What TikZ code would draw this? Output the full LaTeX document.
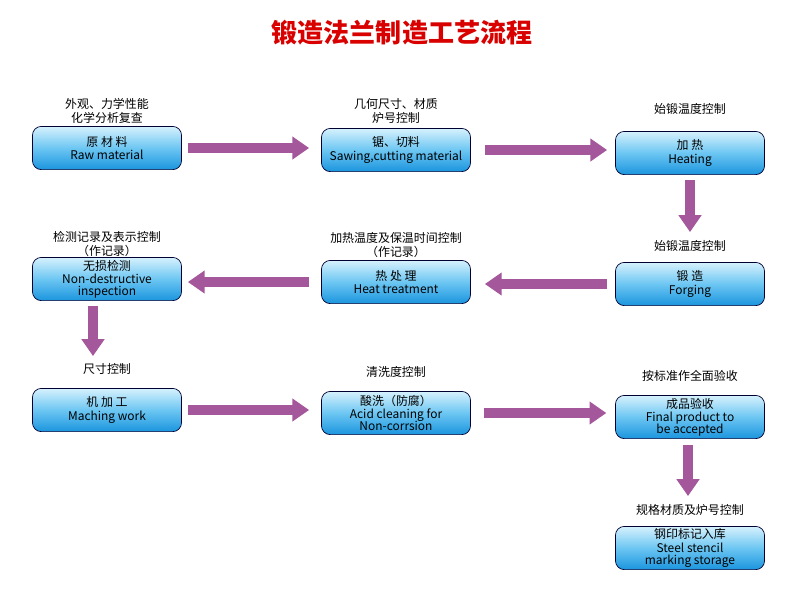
\documentclass[tikz,border=0pt]{standalone}
\usepackage{fontspec}
\setmainfont{Noto Sans CJK SC}
\usetikzlibrary{arrows.meta}
\definecolor{arr}{HTML}{A4579A}
\definecolor{bxtop}{HTML}{D6F1FD}
\definecolor{bxmid}{HTML}{6CC6F2}
\definecolor{bxbot}{HTML}{1B95DE}
\tikzset{
 x=0.025cm,y=-0.025cm,
 box/.style={draw=black!80!blue,line width=0.5pt,rounded corners=0.22cm,minimum width=3.725cm,minimum height=1.08cm,
  top color=bxtop,bottom color=bxbot,middle color=bxmid,align=center,font=\fontsize{8.5}{9.5}\selectfont,inner sep=1pt},
 lab/.style={align=center,font=\fontsize{8.5}{9.5}\selectfont},
 flow/.style={draw=arr,line width=0.23cm,-{Triangle[width=0.55cm,length=0.42cm]}}
}
\begin{document}
\begin{tikzpicture}
\useasboundingbox[fill=white] (0,0) rectangle (800,595);
\node[font=\fontsize{18.5}{20}\selectfont\bfseries,text=red!85!black] (title) at (402,33) {锻造法兰制造工艺流程};
\node[box] (b1) at (107,148) {原 材 料\\Raw material};
\node[box] (b2) at (396,150) {锯、切料\\Sawing,cutting material};
\node[box] (b3) at (690,153) {加 热\\Heating};
\node[box] (b4) at (690,284) {锻 造\\Forging};
\node[box] (b5) at (396,282) {热 处 理\\Heat treatment};
\node[box] (b6) at (107,279) {无损检测\\Non-destructive\\[-1pt]inspection};
\node[box] (b7) at (107,410) {机 加 工\\Maching work};
\node[box] (b8) at (396,413) {酸洗（防腐）\\Acid cleaning for\\[-1pt]Non-corrsion};
\node[box] (b9) at (690,417) {成品验收\\Final product to\\[-1pt]be accepted};
\node[box] (b10) at (690,548) {钢印标记入库\\Steel stencil\\[-1pt]marking storage};
\node[lab] (l1) at (107,111) {外观、力学性能\\化学分析复查};
\node[lab] (l2) at (396,111) {几何尺寸、材质\\炉号控制};
\node[lab] (l3) at (690,109) {始锻温度控制};
\node[lab] (l4) at (690,246) {始锻温度控制};
\node[lab] (l5) at (396,245) {加热温度及保温时间控制\\（作记录）};
\node[lab] (l6) at (107,244) {检测记录及表示控制\\（作记录）};
\node[lab] (l7) at (107,369) {尺寸控制};
\node[lab] (l8) at (396,372) {清洗度控制};
\node[lab] (l9) at (690,376) {按标准作全面验收};
\node[lab] (l10) at (690,510) {规格材质及炉号控制};
\draw[flow,shorten <=0.15cm,shorten >=0.3cm] (b1.east) -- (b1.east-|b2.west);
\draw[flow,shorten <=0.35cm,shorten >=0.2cm] (b2.east) -- (b2.east-|b3.west);
\draw[flow,shorten <=0.12cm,shorten >=0.75cm] (b3.south) -- (b3.south|-b4.north);
\draw[flow,shorten <=0.2cm,shorten >=0.35cm] (b4.west) -- (b4.west-|b5.east);
\draw[flow,shorten <=0.3cm,shorten >=0.15cm] (b5.west) -- (b5.west-|b6.east);
\draw[flow,shorten <=0.12cm,shorten >=0.8cm] ([xshift=-0.35cm]b6.south) -- ([xshift=-0.35cm]b6.south|-b7.north);
\draw[flow,shorten <=0.15cm,shorten >=0.3cm] (b7.east) -- (b7.east-|b8.west);
\draw[flow,shorten <=0.32cm,shorten >=0.22cm] (b8.east) -- (b8.east-|b9.west);
\draw[flow,shorten <=0.15cm,shorten >=0.75cm] ([xshift=-0.05cm]b9.south) -- ([xshift=-0.05cm]b9.south|-b10.north);
\end{tikzpicture}
\end{document}
